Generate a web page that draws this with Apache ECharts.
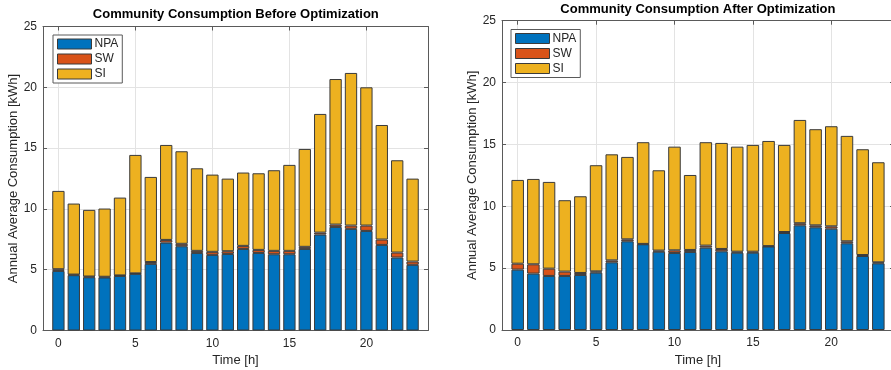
<!DOCTYPE html>
<html>
<head>
<meta charset="utf-8">
<script src="https://cdn.jsdelivr.net/npm/echarts@6/dist/echarts.min.js"></script>
<style>
  html, body { margin: 0; padding: 0; background: #fff; }
  #chart { width: 891px; height: 370px; }
</style>
</head>
<body>
<div id="chart"></div>
<script>
// Hour of day (x positions of the stacked bars)
const hours = [0, 1, 2, 3, 4, 5, 6, 7, 8, 9, 10, 11, 12, 13, 14, 15, 16, 17, 18, 19, 20, 21, 22, 23];
const xTicks = [0, 5, 10, 15, 20];

// Annual average consumption per hour [kWh] before optimization
const npaBefore = [4.90, 4.55, 4.38, 4.36, 4.49, 4.66, 5.48, 7.23, 6.93, 6.38, 6.22, 6.30,
                   6.71, 6.38, 6.27, 6.27, 6.71, 7.89, 8.52, 8.36, 8.19, 7.04, 6.00, 5.40];
const swBefore  = [0.14, 0.05, 0.06, 0.06, 0.04, 0.04, 0.15, 0.22, 0.20, 0.17, 0.25, 0.22,
                   0.25, 0.25, 0.28, 0.28, 0.17, 0.16, 0.19, 0.27, 0.44, 0.44, 0.41, 0.27];
const siBefore  = [6.44, 5.84, 5.48, 5.61, 6.40, 9.74, 7.00, 7.81, 7.61, 6.79, 6.35, 5.97,
                   6.03, 6.30, 6.63, 7.07, 8.05, 9.76, 11.97, 12.55, 11.37, 9.42, 7.59, 6.82];

// Annual average consumption per hour [kWh] after optimization
const npaAfter = [4.88, 4.56, 4.37, 4.37, 4.45, 4.64, 5.47, 7.17, 6.93, 6.33, 6.23, 6.31,
                  6.66, 6.36, 6.25, 6.25, 6.75, 7.84, 8.46, 8.30, 8.19, 7.01, 5.98, 5.39];
const swAfter  = [0.48, 0.75, 0.59, 0.35, 0.16, 0.10, 0.16, 0.16, 0.03, 0.09, 0.21, 0.16,
                  0.16, 0.19, 0.08, 0.08, 0.03, 0.08, 0.17, 0.16, 0.19, 0.16, 0.08, 0.08];
const siAfter  = [6.77, 6.90, 7.01, 5.77, 6.20, 8.58, 8.57, 6.66, 8.22, 6.49, 8.38, 6.06,
                  8.36, 8.57, 8.49, 8.63, 8.50, 7.04, 8.35, 7.77, 8.09, 8.52, 8.55, 8.09];

const seriesNames = ['NPA', 'SW', 'SI'];
const seriesColors = ['#0072BD', '#D95319', '#EDB120'];

const FONT = 'Liberation Sans, Arial, Helvetica, sans-serif';
const TEXT = '#262626';
const AXIS = '#5a5a5a';
const GRIDLINE = '#e3e3e3';

const grids = [
  { left: 43, right: 463, top: 26.5, bottom: 39.5, outerBoundsMode: 'none', containLabel: false },
  { left: 502, right: -3, top: 20.7, bottom: 40, outerBoundsMode: 'none', containLabel: false }
];

function xAxes(gi) {
  const common = {
    type: 'value', gridIndex: gi, min: -1, max: 24,
    axisLine: { show: true, onZero: false, lineStyle: { color: AXIS, width: 1 } },
    axisTick: { show: true, inside: true, length: 4, customValues: xTicks, lineStyle: { color: AXIS } }
  };
  return [
    Object.assign({}, common, {
      position: 'bottom',
      axisLabel: { customValues: xTicks, color: TEXT, fontFamily: FONT, fontSize: 12, margin: 7 },
      splitLine: { show: true, lineStyle: { color: GRIDLINE, width: 1 } },
      name: 'Time [h]', nameLocation: 'middle', nameGap: 23,
      nameTextStyle: { color: TEXT, fontFamily: FONT, fontSize: 13 }
    }),
    Object.assign({}, common, {
      position: 'top',
      axisLabel: { show: false },
      splitLine: { show: false }
    })
  ];
}

function yAxes(gi) {
  const common = {
    type: 'value', gridIndex: gi, min: 0, max: 25, interval: 5,
    axisLine: { show: true, onZero: false, lineStyle: { color: AXIS, width: 1 } },
    axisTick: { show: true, inside: true, length: 4, lineStyle: { color: AXIS } }
  };
  return [
    Object.assign({}, common, {
      position: 'left',
      axisLabel: { color: TEXT, fontFamily: FONT, fontSize: 12, margin: 6 },
      splitLine: { show: true, lineStyle: { color: GRIDLINE, width: 1 } },
      name: 'Annual Average Consumption [kWh]', nameLocation: 'middle', nameGap: 23,
      nameTextStyle: { color: TEXT, fontFamily: FONT, fontSize: 13 }
    }),
    Object.assign({}, common, {
      position: 'right',
      axisLabel: { show: false },
      splitLine: { show: false }
    })
  ];
}

// Each row is [value, hour]; the value comes first so that it is the stacked dimension.
function stackSeries(panel, arrays) {
  return arrays.map((arr, k) => ({
    name: seriesNames[k],
    type: 'bar',
    stack: 'panel' + panel,
    xAxisIndex: panel * 2,
    yAxisIndex: panel * 2,
    barWidth: '80%',
    dimensions: ['kwh', 'hour'],
    encode: { x: 'hour', y: 'kwh' },
    itemStyle: { color: seriesColors[k], borderColor: '#3a3a3a', borderWidth: 1 },
    emphasis: { disabled: true },
    data: hours.map((h, i) => [arr[i], h])
  }));
}

function legendAt(left, top) {
  return {
    orient: 'vertical', left: left, top: top,
    data: seriesNames,
    itemWidth: 34, itemHeight: 10, itemGap: 3,
    padding: [3, 4, 3, 4],
    backgroundColor: '#fff',
    borderColor: '#5a5a5a', borderWidth: 1, borderRadius: 0,
    icon: 'rect',
    selectedMode: false,
    itemStyle: { borderColor: '#3a3a3a', borderWidth: 1 },
    textStyle: { color: TEXT, fontFamily: FONT, fontSize: 12, padding: [0, 0, 0, -2] }
  };
}

const option = {
  backgroundColor: '#fff',
  animation: false,
  title: [
    { text: 'Community Consumption Before Optimization', left: 235.8, top: 8, textAlign: 'center', padding: 0,
      textStyle: { fontFamily: FONT, fontSize: 13, fontWeight: 'bold', color: '#000' } },
    { text: 'Community Consumption After Optimization', left: 697.9, top: 2.5, textAlign: 'center', padding: 0,
      textStyle: { fontFamily: FONT, fontSize: 13, fontWeight: 'bold', color: '#000' } }
  ],
  legend: [legendAt(53, 35), legendAt(511, 29.5)],
  grid: grids,
  xAxis: xAxes(0).concat(xAxes(1)),
  yAxis: yAxes(0).concat(yAxes(1)),
  series: stackSeries(0, [npaBefore, swBefore, siBefore])
    .concat(stackSeries(1, [npaAfter, swAfter, siAfter]))
};

const chart = echarts.init(document.getElementById('chart'), null, { renderer: 'canvas' });
chart.setOption(option);
</script>
</body>
</html>
